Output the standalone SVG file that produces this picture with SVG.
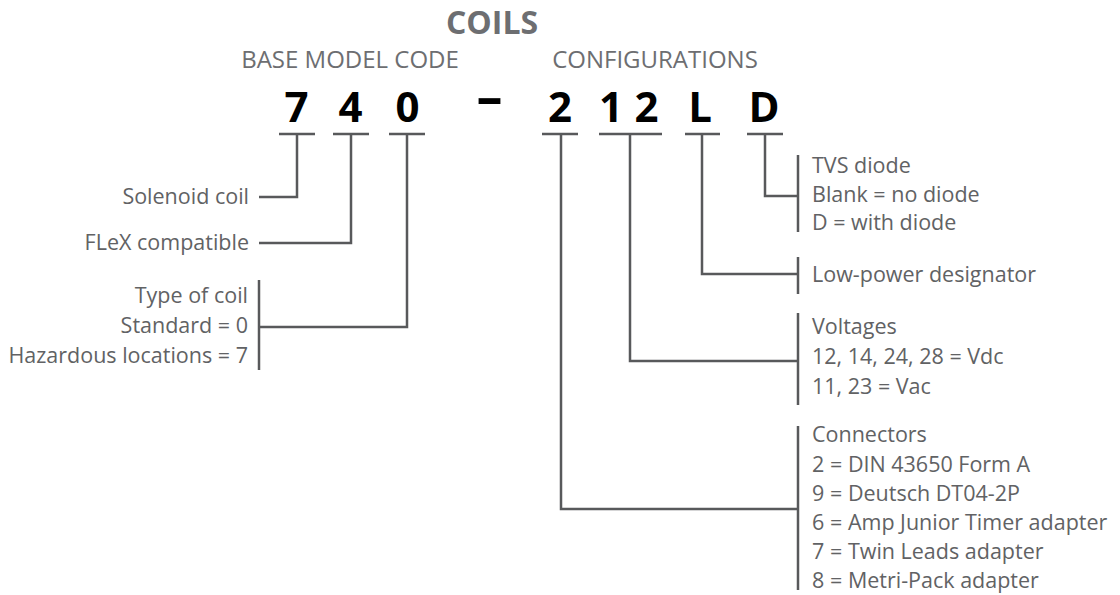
<svg xmlns="http://www.w3.org/2000/svg" width="1120" height="595" viewBox="0 0 1120 595">
<style>
.t{font-family:"Open Sans","Liberation Sans",sans-serif;font-size:21.5px;fill:#616264}
.r{text-anchor:end}
.h{font-family:"Open Sans","Liberation Sans",sans-serif;font-size:24px;fill:#6d6e71;text-anchor:middle}
.ttl{font-family:"Open Sans","Liberation Sans",sans-serif;font-size:32px;font-weight:bold;fill:#6d6e71;text-anchor:middle}
.c{font-family:"Open Sans","Liberation Sans",sans-serif;font-size:42px;font-weight:bold;fill:#000;text-anchor:middle}
.ln{stroke:#58595b;stroke-width:2.5;fill:none}
</style>
<rect width="1120" height="595" fill="#fff"/>
<g id="header">
<text class="ttl" x="492" y="34">COILS</text>
<text class="h" x="350" y="68">BASE MODEL CODE</text>
<text class="h" x="655" y="68">CONFIGURATIONS</text>
</g>
<g id="code">
<text class="c" x="296.5" y="122">7</text>
<text class="c" x="350.5" y="122">4</text>
<text class="c" x="407.5" y="122">0</text>
<text class="c" x="489.5" y="115" style="font-size:52px">–</text>
<text class="c" x="560" y="122">2</text>
<text class="c" x="611" y="122">1</text>
<text class="c" x="646.5" y="122">2</text>
<text class="c" x="700" y="122">L</text>
<text class="c" x="764" y="122">D</text>
</g>
<g id="connectors" class="ln">
<path d="M279 134H315M333 134H369M389 134H425M542 134H578M599 134H662M685 134H720M747 134H783"/>
<path d="M297 134V197H259"/>
<path d="M351 134V243H259"/>
<path d="M407 134V327H259"/>
<path d="M765 134V196H798"/>
<path d="M702 134V274H798"/>
<path d="M630 134V361H798"/>
<path d="M561 134V509H798"/>
<path d="M259 280V370"/>
<path d="M798 155V232M798 257V294M798 313V405M798 426V590"/>
</g>
<g id="node-solenoid"><text class="t r" x="249" y="204">Solenoid coil</text></g>
<g id="node-flex"><text class="t r" x="249" y="250">FLeX compatible</text></g>
<g id="node-type">
<text class="t r" x="248" y="303">Type of coil</text>
<text class="t r" x="248" y="333">Standard = 0</text>
<text class="t r" x="248" y="363">Hazardous locations = 7</text>
</g>
<g id="node-tvs">
<text class="t" x="812" y="173">TVS diode</text>
<text class="t" x="812" y="202">Blank = no diode</text>
<text class="t" x="812" y="230">D = with diode</text>
</g>
<g id="node-lowpower"><text class="t" x="812" y="282">Low-power designator</text></g>
<g id="node-voltages">
<text class="t" x="812" y="334">Voltages</text>
<text class="t" x="812" y="364">12, 14, 24, 28 = Vdc</text>
<text class="t" x="812" y="394">11, 23 = Vac</text>
</g>
<g id="node-connectors">
<text class="t" x="812" y="442">Connectors</text>
<text class="t" x="812" y="472">2<tspan x="830">= DIN 43650 Form A</tspan></text>
<text class="t" x="812" y="501">9<tspan x="830">= Deutsch DT04-2P</tspan></text>
<text class="t" x="812" y="530">6<tspan x="830">= Amp Junior Timer adapter</tspan></text>
<text class="t" x="812" y="559">7<tspan x="830">= Twin Leads adapter</tspan></text>
<text class="t" x="812" y="588">8<tspan x="830">= Metri-Pack adapter</tspan></text>
</g>
</svg>
